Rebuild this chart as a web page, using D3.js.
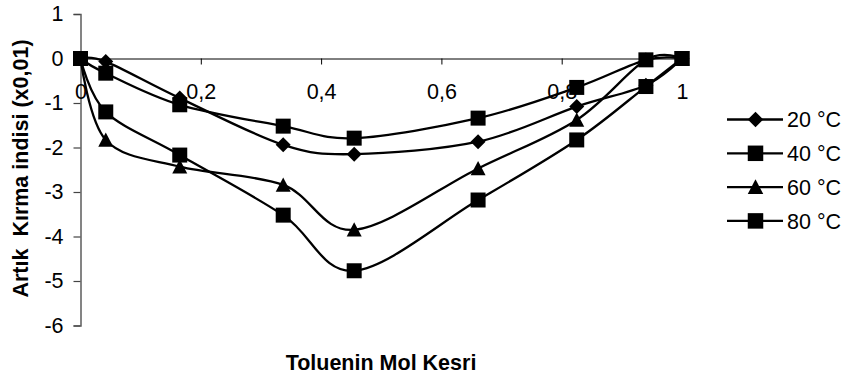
<!DOCTYPE html>
<html>
<head>
<meta charset="utf-8">
<script src="https://cdn.jsdelivr.net/npm/d3@7"></script>
<style>
  body { margin: 0; background: #fff; }
  svg { display: block; font-family: "Liberation Sans", Arial, sans-serif; }
</style>
</head>
<body>
<svg id="chart"></svg>
<script>
// mole fraction of toluene
const molFraction = [0, 0.042, 0.165, 0.337, 0.455, 0.661, 0.825, 0.94, 1];

// excess refractive index (x0,01) per temperature
const t20 = [0, -0.07, -0.89, -1.94, -2.15, -1.87, -1.08, -0.6, 0];
const t40 = [0, -0.33, -1.04, -1.52, -1.79, -1.34, -0.65, -0.03, 0];
const t60 = [0, -1.83, -2.43, -2.84, -3.85, -2.47, -1.38, -0.03, 0];
const t80 = [0, -1.2, -2.17, -3.52, -4.77, -3.18, -1.83, -0.63, 0];

const seriesNames = ["20 °C", "40 °C", "60 °C", "80 °C"];
const seriesMarkers = ["diamond", "square", "triangle", "square"];
const xTicks = [0, 0.2, 0.4, 0.6, 0.8, 1];
const yTicks = [1, 0, -1, -2, -3, -4, -5, -6];

const width = 843, height = 378;
const plot = { left: 80.5, right: 682, top: 14, bottom: 325.5 };

const series = [t20, t40, t60, t80].map((vals, i) => ({
    name: seriesNames[i],
    marker: seriesMarkers[i],
    points: vals.map((v, j) => ({ x: molFraction[j], y: v }))
}));

const svg = d3.select("#chart")
    .attr("width", width)
    .attr("height", height);

svg.append("rect").attr("width", width).attr("height", height).attr("fill", "#fff");

const x = d3.scaleLinear().domain([0, 1]).range([plot.left, plot.right]);
const y = d3.scaleLinear().domain([-6, 1]).range([plot.bottom, plot.top]);

const comma = d => String(d).replace(".", ",");

// y axis on the left (soft grey like the scanned original)
svg.append("g")
    .attr("transform", `translate(${plot.left},0)`)
    .call(d3.axisLeft(y).tickValues(yTicks).tickSize(7).tickPadding(10).tickFormat(comma))
    .call(g => {
        g.select(".domain").attr("stroke", "#666").attr("stroke-width", 1.6);
        g.selectAll(".tick line").attr("stroke", "#444").attr("stroke-width", 1.2);
        g.selectAll("text").attr("font-size", 21.5).attr("fill", "#000")
            .style("font-family", '"Liberation Sans", Arial, sans-serif');
    });

// x axis sits on the zero line
svg.append("g")
    .attr("transform", `translate(0,${y(0)})`)
    .call(d3.axisBottom(x).tickValues(xTicks).tickSize(6).tickPadding(19).tickFormat(comma))
    .call(g => {
        g.select(".domain").attr("stroke", "#000").attr("stroke-width", 1);
        g.selectAll(".tick line").attr("stroke", "#000").attr("stroke-width", 1);
        g.selectAll("text").attr("font-size", 21.5).attr("fill", "#000")
            .style("font-family", '"Liberation Sans", Arial, sans-serif');
    });

function markerPath(type, s) {
    const h = s / 2;
    if (type === "square") return `M${-h},${-h}H${h}V${h}H${-h}Z`;
    if (type === "diamond") return `M0,${-h}L${h},0L0,${h}L${-h},0Z`;
    return `M0,${-h}L${h},${h * 0.9}L${-h},${h * 0.9}Z`;
}

const line = d3.line()
    .x(d => x(d.x))
    .y(d => y(d.y))
    .curve(d3.curveCatmullRom.alpha(0));

const sg = svg.selectAll(".series")
    .data(series)
    .enter().append("g")
    .attr("class", "series");

sg.append("path")
    .attr("d", d => line(d.points))
    .attr("fill", "none")
    .attr("stroke", "#000")
    .attr("stroke-width", 2.3);

sg.selectAll(".mk")
    .data(d => d.points.map(p => ({ ...p, marker: d.marker })))
    .enter().append("path")
    .attr("class", "mk")
    .attr("transform", d => `translate(${x(d.x)},${y(d.y)})`)
    .attr("d", d => markerPath(d.marker, 15))
    .attr("fill", "#000");

// legend
const legend = svg.append("g").attr("transform", "translate(727,119.5)");
const row = legend.selectAll("g")
    .data(series)
    .enter().append("g")
    .attr("transform", (d, i) => `translate(0,${i * 33.8})`);

row.append("line")
    .attr("x1", 0).attr("x2", 56)
    .attr("stroke", "#000").attr("stroke-width", 2.3);
row.append("path")
    .attr("transform", "translate(28.5,0)")
    .attr("d", d => markerPath(d.marker, 15.5))
    .attr("fill", "#000");
row.append("text")
    .attr("x", 60)
    .attr("y", 7.7)
    .attr("font-size", 21.5)
    .text(d => d.name);

// axis titles
svg.append("text")
    .attr("transform", "translate(28.3,168.5) rotate(-90)")
    .attr("text-anchor", "middle")
    .attr("font-size", 21.5)
    .attr("font-weight", "bold")
    .style("white-space", "pre")
    .text("Artık  Kırma indisi (x0,01)");

svg.append("text")
    .attr("x", 381)
    .attr("y", 369.5)
    .attr("text-anchor", "middle")
    .attr("font-size", 21.5)
    .attr("font-weight", "bold")
    .text("Toluenin Mol Kesri");
</script>
</body>
</html>
